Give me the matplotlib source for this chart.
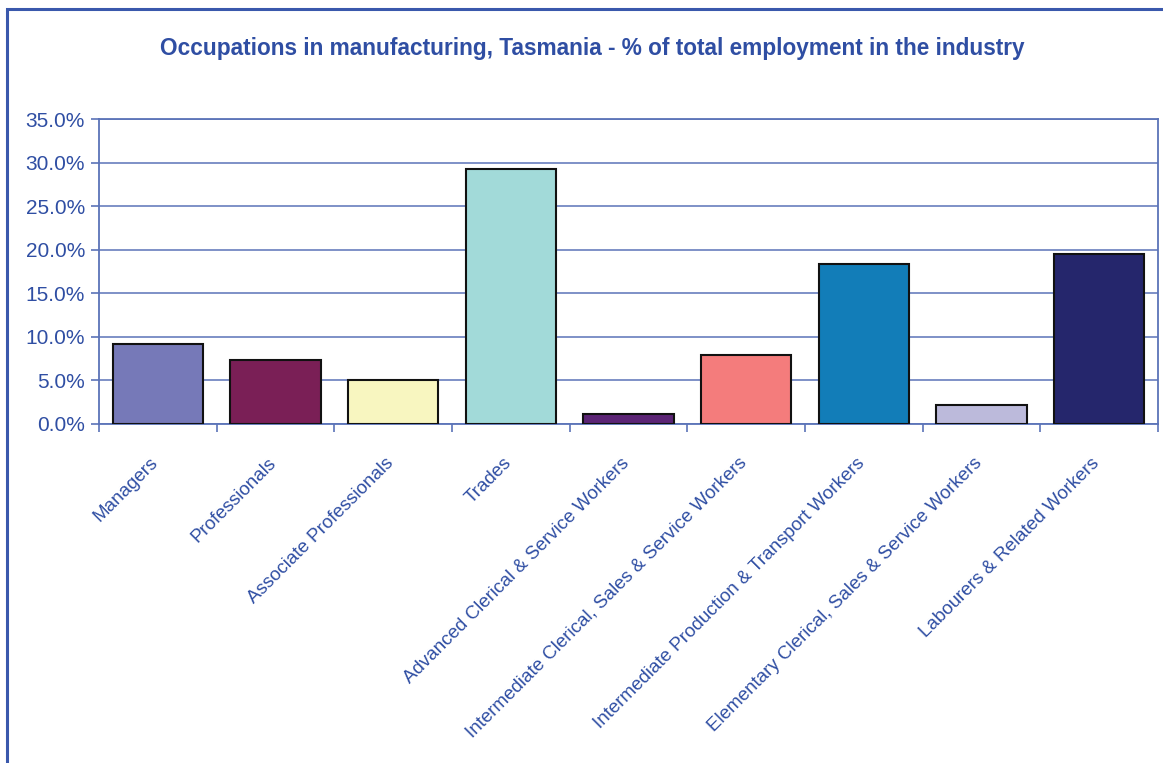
import matplotlib.pyplot as plt
import matplotlib.patches as patches
import matplotlib.transforms as mtransforms
from matplotlib.ticker import PercentFormatter

plt.rcParams['font.family'] = ['Liberation Sans', 'DejaVu Sans']

occupations = [
    'Managers',
    'Professionals',
    'Associate Professionals',
    'Trades',
    'Advanced Clerical & Service Workers',
    'Intermediate Clerical, Sales & Service Workers',
    'Intermediate Production & Transport Workers',
    'Elementary Clerical, Sales & Service Workers',
    'Labourers & Related Workers',
]
share = [9.2, 7.4, 5.05, 29.25, 1.15, 7.9, 18.4, 2.2, 19.5]
colours = ['#7679B8', '#7A1F56', '#F8F6C0', '#A2DAD9', '#5B2475',
           '#F47C7C', '#127DB8', '#BCBADB', '#25266C']

txt = '#2F4EA3'
grid = '#5B73B8'

fig = plt.figure(figsize=(11.63, 7.63), dpi=100)
ax = fig.add_axes([0.0851, 0.4443, 0.9106, 0.3997])

x = range(len(occupations))
ax.bar(x, share, width=0.77, color=colours, edgecolor='#111111', linewidth=1.5, zorder=3)

ax.set_xlim(-0.5, len(occupations) - 0.5)
ax.set_ylim(0, 35)
ax.set_yticks(range(0, 36, 5))
ax.yaxis.set_major_formatter(PercentFormatter(decimals=1))
ax.grid(axis='y', color=grid, linewidth=1.1, zorder=0)

ax.set_xticks([i - 0.5 for i in range(len(occupations) + 1)])
ax.set_xticklabels([])
ax.set_xticks(list(x), minor=True)
ax.set_xticklabels(occupations, minor=True, rotation=45, ha='right', va='top',
                   rotation_mode='anchor', fontsize=13.5, color=txt)
ax.tick_params(axis='x', which='minor', length=0, pad=22)
ax.tick_params(axis='x', which='major', length=6, color=grid, width=1.2)
ax.tick_params(axis='y', length=6, color=grid, width=1.2, labelsize=15, labelcolor=txt, pad=4)

shift = mtransforms.ScaledTranslation(-0.08, 0, fig.dpi_scale_trans)
for lab in ax.get_xticklabels(minor=True):
    lab.set_transform(lab.get_transform() + shift)

for s in ax.spines.values():
    s.set_color(grid)
    s.set_linewidth(1.3)

fig.text(0.509, 0.937, 'Occupations in manufacturing, Tasmania - % of total employment in the industry',
         ha='center', va='center', fontsize=16.3, fontweight='bold', color=txt)

frame = patches.Rectangle((7 / 1163, -0.1), 1.2, 1 - 9 / 763 + 0.1, transform=fig.transFigure,
                          fill=False, edgecolor='#3A58AC', linewidth=2.2)
fig.patches.append(frame)

fig.savefig('out.png', dpi=100)
